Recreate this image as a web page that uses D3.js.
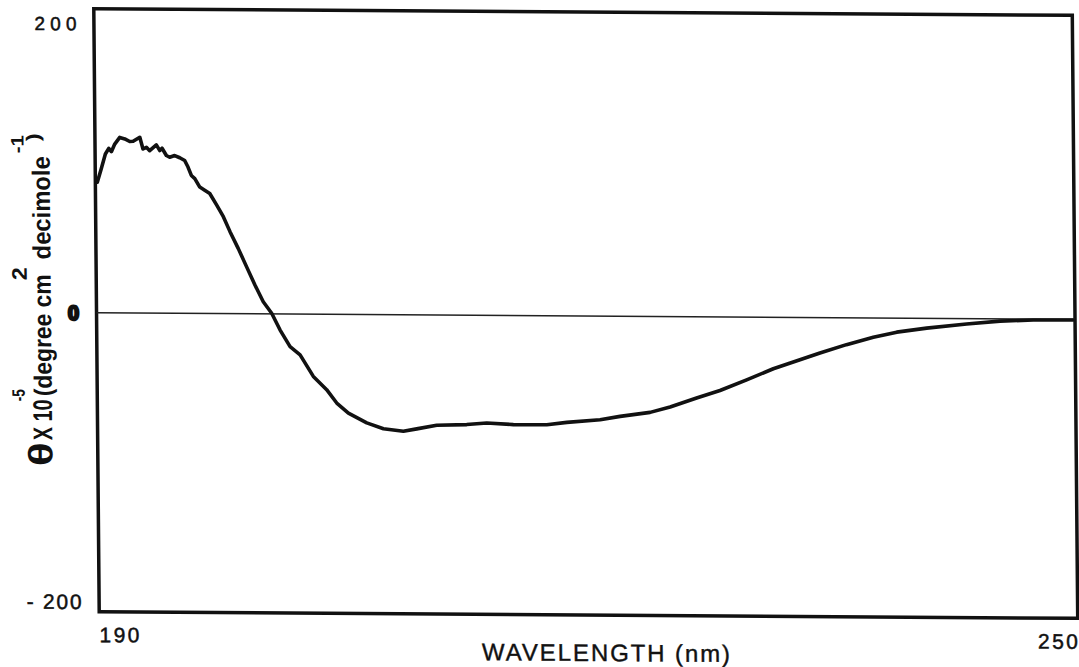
<!DOCTYPE html>
<html>
<head>
<meta charset="utf-8">
<script src="https://cdn.jsdelivr.net/npm/d3@7"></script>
<style>
  body { margin: 0; background: #fff; }
  svg { display: block; background: #fff; }
  text { font-family: "Liberation Sans", Arial, sans-serif; fill: #111; }
</style>
</head>
<body>
<svg id="chart"></svg>
<script>
/* global d3 */

// CD spectrum
var wavelength = [190.12, 190.37, 190.63, 190.84, 191.00, 191.21, 191.52, 191.83, 192.13, 192.34,
  192.75, 192.94, 193.15, 193.35, 193.76, 193.97, 194.11, 194.37, 194.57, 194.88,
  195.19, 195.49, 195.69, 195.89, 196.10, 196.40, 196.70, 197.01, 197.43, 197.83,
  198.23, 198.73, 199.23, 199.73, 200.23, 200.74, 201.24, 201.85, 202.46, 203.26,
  204.07, 204.68, 205.39, 206.51, 207.53, 208.75, 209.57, 210.80, 212.64, 213.87,
  215.50, 217.55, 218.78, 220.82, 222.05, 223.89, 225.12, 226.75, 228.19, 229.83,
  231.47, 233.11, 234.34, 235.97, 237.62, 239.06, 240.90, 243.35, 245.40, 247.44, 249.89];
var theta = [90.3, 99.6, 109.9, 113.8, 111.5, 116.8, 121.4, 120.4, 118.6, 118.8,
  121.6, 113.5, 114.7, 112.4, 116.4, 112.5, 114.1, 109.1, 107.9, 109.1,
  107.6, 105.7, 101.2, 95.4, 93.2, 87.4, 85.2, 83.0, 75.0, 67.0,
  56.7, 45.0, 32.4, 19.9, 8.3, 0.4, -11.0, -22.6, -28.2, -43.1,
  -52.2, -61.4, -68.3, -75.0, -79.0, -80.6, -78.9, -76.3, -75.7, -74.5,
  -75.5, -75.4, -73.7, -71.7, -69.3, -66.4, -62.6, -56.2, -50.9, -43.4,
  -35.6, -29.3, -24.5, -18.6, -13.4, -9.7, -6.8, -3.7, -1.6, -0.7, -0.5];
var xTicks = [190, 250];
var yTicks = [200, 0, -200];

var width = 1079,
  height = 667,
  frame = { left: 96.5, right: 1075, top: 12, bottom: 615 };

var svg = d3.select("#chart")
  .attr("width", width)
  .attr("height", height);

// the scan is slightly sheared, so the whole drawing is too
var g = svg.append("g")
  .attr("transform", "matrix(1,0.0068,0.009,1,-2.817,-3.978)");

var x = d3.scaleLinear().domain([190, 250]).range([frame.left, frame.right]);
var y = d3.scaleLinear().domain([-200, 200]).range([605, 27]);

// frame
g.append("rect")
  .attr("x", frame.left)
  .attr("y", frame.top)
  .attr("width", frame.right - frame.left)
  .attr("height", frame.bottom - frame.top)
  .attr("fill", "none")
  .attr("stroke", "#111")
  .attr("stroke-width", 3.5);

// zero line
g.append("line")
  .attr("x1", frame.left)
  .attr("x2", frame.right)
  .attr("y1", y(0))
  .attr("y2", y(0))
  .attr("stroke", "#222")
  .attr("stroke-width", 1.5);

// spectrum
var line = d3.line()
  .x(function(d) { return x(d[0]); })
  .y(function(d) { return y(d[1]); });

g.append("path")
  .datum(d3.zip(wavelength, theta))
  .attr("fill", "none")
  .attr("stroke", "#111")
  .attr("stroke-width", 3.6)
  .attr("stroke-linejoin", "round")
  .attr("stroke-linecap", "round")
  .attr("d", line);

// y tick labels
var yFont = { "200": 19, "0": 20, "-200": 21 };
var yLen = { "200": 42, "0": 10, "-200": 55 };
g.selectAll(".ytick")
  .data(yTicks)
  .enter().append("text")
  .attr("class", "ytick")
  .attr("x", 79)
  .attr("y", function(d) { return y(d); })
  .attr("dy", "0.36em")
  .attr("text-anchor", "end")
  .attr("font-size", function(d) { return yFont[d]; })
  .attr("font-weight", function(d) { return d === 0 ? 900 : 400; })
  .attr("stroke", "#111")
  .attr("stroke-width", function(d) { return d === 0 ? 2.5 : 0.5; })
  .attr("textLength", function(d) { return yLen[d]; })
  .text(function(d) { return d === 0 ? "0" : String(d).replace("-", "- "); });

// x tick labels
g.selectAll(".xtick")
  .data(xTicks)
  .enter().append("text")
  .attr("class", "xtick")
  .attr("x", function(d) { return x(d); })
  .attr("y", 645.5)
  .attr("text-anchor", function(d, i) { return i === 0 ? "start" : "end"; })
  .attr("font-size", 21)
  .attr("stroke", "#111")
  .attr("stroke-width", 0.5)
  .attr("textLength", 40)
  .text(function(d) { return d; });

// x title
g.append("text")
  .attr("x", 603)
  .attr("y", 661)
  .attr("text-anchor", "middle")
  .attr("font-size", 24)
  .attr("stroke", "#111")
  .attr("stroke-width", 0.4)
  .attr("textLength", 248)
  .text("WAVELENGTH (nm)");

// y title, pieces laid out along the rotated baseline
var yt = g.append("g")
  .attr("transform", "translate(51,473) rotate(-90)")
  .attr("font-weight", "bold");

var pieces = [
  { t: "\u03b8", x: 3, y: 0, s: 34, len: 24 },
  { t: "X 10", x: 29, y: 0, s: 27, len: 41 },
  { t: "-5", x: 68, y: -27, s: 18, len: 12 },
  { t: "(degree cm", x: 73, y: 0, s: 25, len: 122 },
  { t: "2", x: 189, y: -24, s: 21, len: 13 },
  { t: "decimole", x: 210, y: 0, s: 25, len: 103 },
  { t: "-1", x: 316, y: -26, s: 18, len: 18 },
  { t: ")", x: 328, y: -10, s: 19, len: 8 }
];

yt.selectAll("text")
  .data(pieces)
  .enter().append("text")
  .attr("x", function(d) { return d.x; })
  .attr("y", function(d) { return d.y; })
  .attr("font-size", function(d) { return d.s; })
  .attr("textLength", function(d) { return d.len; })
  .attr("lengthAdjust", "spacingAndGlyphs")
  .text(function(d) { return d.t; });
</script>
</body>
</html>
